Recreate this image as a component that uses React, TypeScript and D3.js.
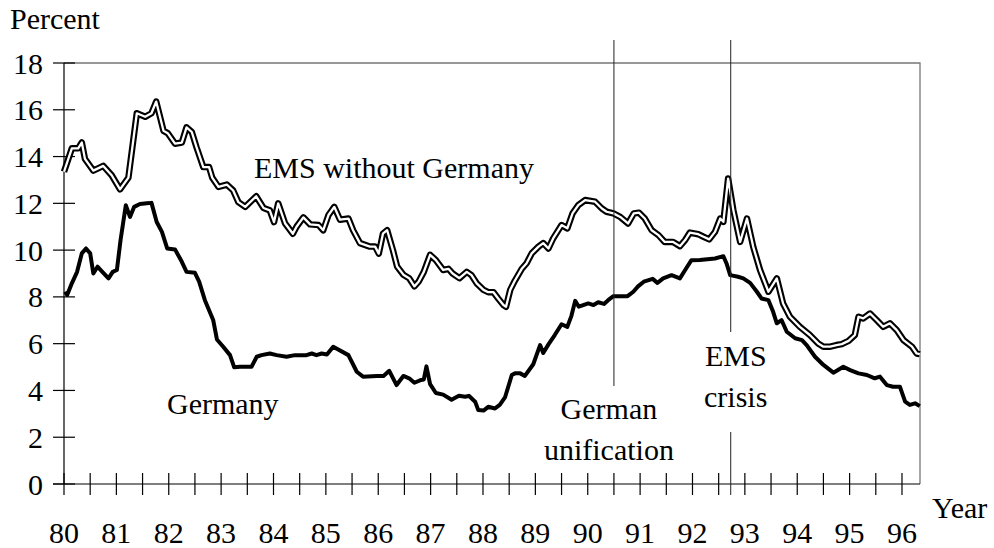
import React, { useEffect, useRef } from "react";
import * as d3 from "d3";

// long-term interest rates in percent (decimal years)
const emsYears = [
  80.0, 80.15, 80.27, 80.34, 80.4, 80.56, 80.75, 80.91, 81.07, 81.23, 81.39, 81.55, 81.67, 81.76, 81.9, 81.98,
  82.12, 82.25, 82.34, 82.44, 82.53, 82.66, 82.77, 82.83, 82.95, 83.11, 83.23, 83.33, 83.46, 83.67, 83.81, 83.93,
  84.01, 84.09, 84.22, 84.37, 84.44, 84.57, 84.7, 84.86, 84.95, 85.05, 85.16, 85.27, 85.43, 85.52, 85.65, 85.84,
  85.94, 86.01, 86.09, 86.17, 86.28, 86.36, 86.48, 86.59, 86.69, 86.77, 86.87, 86.99, 87.1, 87.24, 87.34, 87.42,
  87.55, 87.69, 87.78, 87.88, 88.01, 88.1, 88.2, 88.29, 88.39, 88.44, 88.52, 88.61, 88.74, 88.83, 88.93, 89.06,
  89.15, 89.25, 89.34, 89.5, 89.61, 89.71, 89.82, 89.95, 90.14, 90.27, 90.36, 90.49, 90.62, 90.77, 90.88, 90.98,
  91.09, 91.22, 91.35, 91.47, 91.63, 91.76, 91.86, 91.95, 92.11, 92.21, 92.32, 92.43, 92.53, 92.59, 92.68, 92.78,
  92.91, 93.04, 93.16, 93.29, 93.45, 93.61, 93.73, 93.86, 94.05, 94.24, 94.4, 94.5, 94.63, 94.75, 94.85, 94.98,
  95.1, 95.17, 95.26, 95.39, 95.52, 95.64, 95.77, 95.9, 96.03, 96.19, 96.28, 96.34,
];
const emsRates = [
  13.35, 14.35, 14.35, 14.6, 13.9, 13.4, 13.6, 13.2, 12.6, 13.1, 15.85, 15.7, 15.85, 16.35, 15.1, 15.0,
  14.55, 14.6, 15.25, 15.05, 14.4, 13.55, 13.55, 13.1, 12.7, 12.8, 12.55, 12.05, 11.85, 12.3, 11.8, 11.7,
  11.2, 12.0, 11.15, 10.7, 11.0, 11.4, 11.1, 11.07, 10.85, 11.5, 11.85, 11.3, 11.35, 10.85, 10.3, 10.15,
  10.15, 9.85, 10.7, 10.85, 10.0, 9.3, 8.95, 8.8, 8.45, 8.65, 9.07, 9.8, 9.57, 9.15, 9.2, 9.0,
  8.8, 9.07, 8.93, 8.58, 8.3, 8.2, 8.2, 7.93, 7.65, 7.58, 8.3, 8.7, 9.2, 9.43, 9.86, 10.15,
  10.3, 10.07, 10.5, 11.07, 10.93, 11.57, 11.92, 12.14, 12.07, 11.78, 11.64, 11.57, 11.42, 11.14, 11.57, 11.6,
  11.35, 10.85, 10.64, 10.35, 10.35, 10.17, 10.43, 10.75, 10.68, 10.57, 10.46, 10.78, 11.35, 11.21, 13.06, 11.71,
  10.35, 11.35, 10.14, 9.15, 8.22, 8.79, 7.72, 7.15, 6.72, 6.37, 6.01, 5.87, 5.87, 5.94, 5.98, 6.12,
  6.37, 7.15, 7.08, 7.29, 7.0, 6.72, 6.87, 6.58, 6.15, 5.87, 5.58, 5.55,
];

const germanyYears = [
  80.02, 80.06, 80.15, 80.25, 80.34, 80.42, 80.5, 80.56, 80.64, 80.75, 80.85, 80.93, 81.01, 81.08, 81.18, 81.26,
  81.34, 81.45, 81.58, 81.67, 81.77, 81.87, 81.97, 82.12, 82.25, 82.34, 82.5, 82.58, 82.69, 82.85, 82.92, 83.04,
  83.17, 83.25, 83.36, 83.58, 83.68, 83.77, 83.93, 84.06, 84.25, 84.41, 84.63, 84.73, 84.82, 84.92, 85.02, 85.14,
  85.21, 85.43, 85.59, 85.71, 85.97, 86.1, 86.21, 86.35, 86.48, 86.59, 86.69, 86.82, 86.87, 86.92, 86.99, 87.1,
  87.24, 87.4, 87.54, 87.66, 87.73, 87.85, 87.91, 88.01, 88.1, 88.23, 88.32, 88.42, 88.55, 88.61, 88.71, 88.8,
  88.96, 89.09, 89.15, 89.25, 89.37, 89.5, 89.61, 89.69, 89.76, 89.83, 90.01, 90.11, 90.2, 90.31, 90.39, 90.49,
  90.76, 90.87, 90.96, 91.07, 91.24, 91.33, 91.44, 91.6, 91.76, 91.86, 91.98, 92.14, 92.43, 92.59, 92.65, 92.72,
  92.87, 92.97, 93.1, 93.23, 93.32, 93.45, 93.54, 93.61, 93.7, 93.8, 93.96, 94.09, 94.18, 94.34, 94.5, 94.69,
  94.88, 95.01, 95.17, 95.33, 95.48, 95.58, 95.71, 95.83, 95.96, 96.06, 96.15, 96.25, 96.34,
];
const germanyRates = [
  8.22, 8.08, 8.58, 9.07, 9.86, 10.07, 9.86, 9.0, 9.29, 9.03, 8.79, 9.07, 9.15, 10.43, 11.92, 11.42,
  11.85, 11.97, 12.0, 12.02, 11.2, 10.78, 10.07, 10.03, 9.5, 9.07, 9.03, 8.65, 7.86, 7.0, 6.18, 5.87,
  5.51, 4.99, 5.01, 5.01, 5.44, 5.51, 5.58, 5.51, 5.44, 5.51, 5.51, 5.58, 5.51, 5.58, 5.54, 5.87,
  5.78, 5.51, 4.8, 4.59, 4.62, 4.62, 4.84, 4.23, 4.62, 4.52, 4.33, 4.45, 4.47, 5.03, 4.27, 3.89,
  3.82, 3.6, 3.77, 3.73, 3.77, 3.52, 3.16, 3.14, 3.3, 3.23, 3.38, 3.7, 4.66, 4.73, 4.73, 4.62,
  5.12, 5.94, 5.6, 5.97, 6.37, 6.83, 6.72, 7.2, 7.83, 7.58, 7.72, 7.65, 7.77, 7.7, 7.86, 8.03,
  8.03, 8.22, 8.45, 8.65, 8.77, 8.6, 8.79, 8.93, 8.79, 9.15, 9.57, 9.58, 9.64, 9.74, 9.43, 8.93,
  8.86, 8.79, 8.6, 8.22, 7.93, 7.86, 7.36, 6.87, 7.01, 6.51, 6.23, 6.15, 5.94, 5.44, 5.09, 4.76,
  5.01, 4.87, 4.73, 4.66, 4.52, 4.59, 4.23, 4.16, 4.16, 3.52, 3.38, 3.45, 3.33,
];

const yTicks = [0, 2, 4, 6, 8, 10, 12, 14, 16, 18];
const yearLabels = ["80", "81", "82", "83", "84", "85", "86", "87", "88", "89", "90", "91", "92", "93", "94", "95", "96"];
const halfYearTicks = [
  80, 80.5, 81, 81.5, 82, 82.5, 83, 83.5, 84, 84.5, 85, 85.5, 86, 86.5, 87, 87.5, 88, 88.5,
  89, 89.5, 90, 90.5, 91, 91.5, 92, 92.5, 93, 93.5, 94, 94.5, 95, 95.5, 96,
];
const unificationYear = 90.5;
const emsCrisisYear = 92.73;

const FONT = "'Liberation Serif', 'Times New Roman', serif";

export default function App() {
  const ref = useRef<SVGSVGElement>(null);

  useEffect(() => {
    const svg = d3.select(ref.current);
    svg.selectAll("*").remove();

    const x = d3.scaleLinear().domain([80, 96.344]).range([64, 920]);
    const y = d3.scaleLinear().domain([0, 18]).range([484, 63]);

    const g = svg.append("g");

    // frame (top + right in grey)
    g.append("path")
      .attr("d", `M${x(80)},${y(18)}H${x(96.344)}V${y(0)}`)
      .attr("fill", "none")
      .attr("stroke", "#777")
      .attr("stroke-width", 1.3);

    // axes
    g.append("line")
      .attr("x1", x(80)).attr("x2", x(80))
      .attr("y1", y(18)).attr("y2", y(0))
      .attr("stroke", "#000").attr("stroke-width", 1.2);
    g.append("line")
      .attr("x1", x(80) - 11).attr("x2", x(96.344))
      .attr("y1", y(0)).attr("y2", y(0))
      .attr("stroke", "#000").attr("stroke-width", 1.2);

    // y ticks cross the axis
    g.selectAll(".ytick")
      .data(yTicks)
      .join("line")
      .attr("class", "ytick")
      .attr("x1", x(80) - 11).attr("x2", x(80) + 11)
      .attr("y1", (d) => y(d)).attr("y2", (d) => y(d))
      .attr("stroke", "#000").attr("stroke-width", 1.2);

    g.selectAll(".ylab")
      .data(yTicks)
      .join("text")
      .attr("class", "ylab")
      .attr("x", 43)
      .attr("y", (d) => y(d) + 10.5)
      .attr("text-anchor", "end")
      .style("font-family", FONT)
      .style("font-size", "30px")
      .text((d) => d);

    g.selectAll(".xtick")
      .data(halfYearTicks)
      .join("line")
      .attr("class", "xtick")
      .attr("x1", (d) => x(d)).attr("x2", (d) => x(d))
      .attr("y1", y(0) - 11).attr("y2", y(0) + 11)
      .attr("stroke", "#000").attr("stroke-width", 1.2);

    g.selectAll(".xlab")
      .data(yearLabels)
      .join("text")
      .attr("class", "xlab")
      .attr("x", (d) => x(+d))
      .attr("y", 543)
      .attr("text-anchor", "middle")
      .style("font-family", FONT)
      .style("font-size", "30px")
      .text((d) => d);

    // series
    const emsLine = d3.line<number>()
      .x((d, i) => x(emsYears[i]))
      .y((d) => y(d));
    const gerLine = d3.line<number>()
      .x((d, i) => x(germanyYears[i]))
      .y((d) => y(d));

    g.append("path")
      .attr("d", emsLine(emsRates))
      .attr("fill", "none")
      .attr("stroke", "#000")
      .attr("stroke-width", 6.5)
      .attr("stroke-linejoin", "round");
    g.append("path")
      .attr("d", emsLine(emsRates))
      .attr("fill", "none")
      .attr("stroke", "#fff")
      .attr("stroke-width", 2.3)
      .attr("stroke-linejoin", "round");

    g.append("path")
      .attr("d", gerLine(germanyRates))
      .attr("fill", "none")
      .attr("stroke", "#000")
      .attr("stroke-width", 4)
      .attr("stroke-linejoin", "round");

    // event markers
    const ux = x(unificationYear);
    g.append("line")
      .attr("x1", ux).attr("x2", ux).attr("y1", 40).attr("y2", 386)
      .attr("stroke", "#222").attr("stroke-width", 1);
    const cx = x(emsCrisisYear);
    g.append("line")
      .attr("x1", cx).attr("x2", cx).attr("y1", 40).attr("y2", 332)
      .attr("stroke", "#222").attr("stroke-width", 1);
    g.append("line")
      .attr("x1", cx).attr("x2", cx).attr("y1", 432).attr("y2", y(0) + 11)
      .attr("stroke", "#222").attr("stroke-width", 1);

    const labels: [string, number, number, string][] = [
      ["Percent", 10, 29, "start"],
      ["Year", 932, 518, "start"],
      ["EMS without Germany", 254, 178, "start"],
      ["Germany", 167, 414, "start"],
      ["German", ux - 5, 419, "middle"],
      ["unification", ux - 5, 460, "middle"],
      ["EMS", cx + 5, 366, "middle"],
      ["crisis", cx + 5, 407, "middle"],
    ];
    g.selectAll(".lab")
      .data(labels)
      .join("text")
      .attr("class", "lab")
      .attr("x", (d) => d[1])
      .attr("y", (d) => d[2])
      .attr("text-anchor", (d) => d[3])
      .style("font-family", FONT)
      .style("font-size", "30px")
      .text((d) => d[0]);
  }, []);

  return (
    <svg
      ref={ref}
      width={994}
      height={548}
      style={{ position: "absolute", left: 0, top: 0, background: "#fff" }}
    />
  );
}
